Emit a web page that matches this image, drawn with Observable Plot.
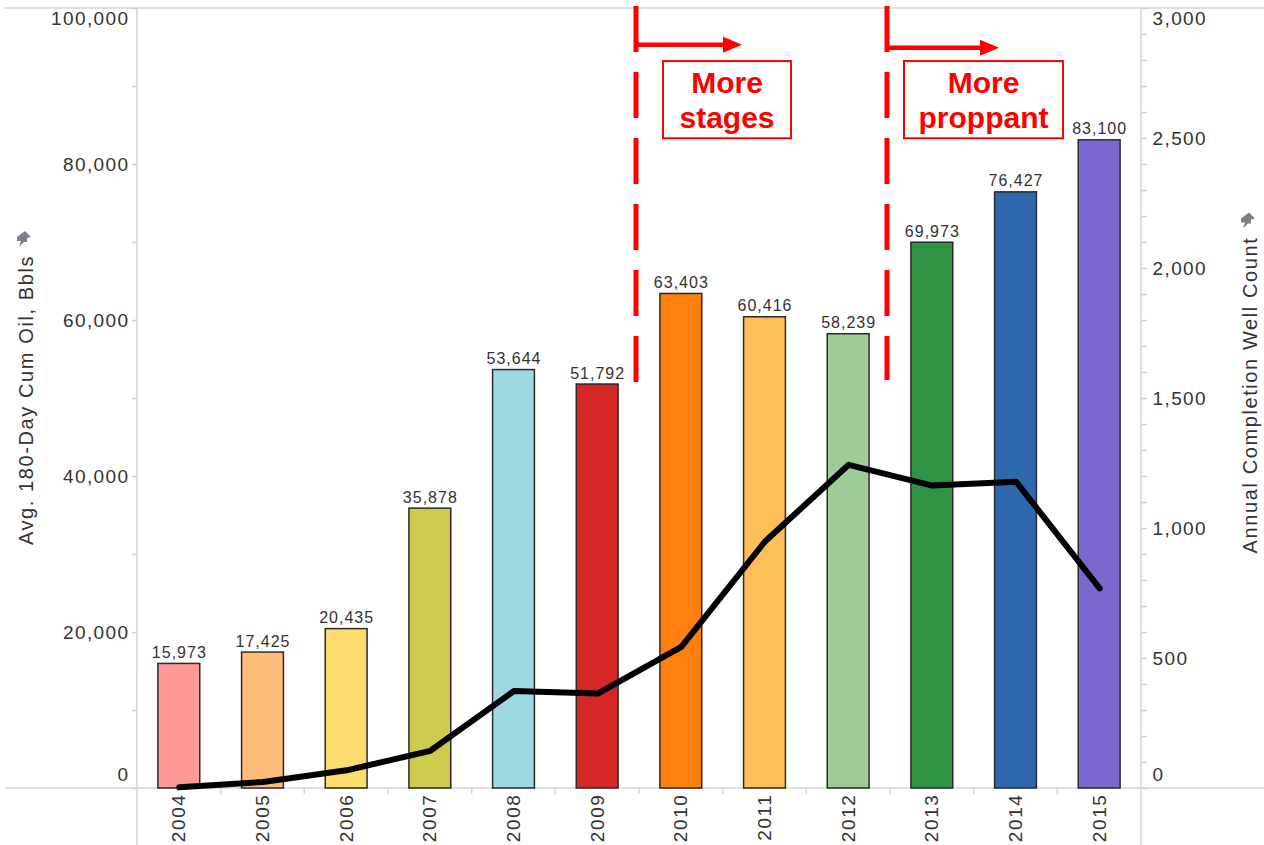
<!DOCTYPE html>
<html>
<head>
<meta charset="utf-8">
<script src="https://cdn.jsdelivr.net/npm/d3@7"></script>
<script src="https://cdn.jsdelivr.net/npm/@observablehq/plot@0.6"></script>
<style>
  html, body { margin: 0; padding: 0; background: #fff; }
  #chart svg { display: block; font-family: "Liberation Sans", Arial, sans-serif; }
  .ticklbl text { letter-spacing: 1.4px; }
  .barlbl text { letter-spacing: 1px; }
  .yearlbl text { letter-spacing: 1.6px; }
</style>
</head>
<body>
<div id="chart"></div>
<script>
// ---- data ----
const years = ["2004","2005","2006","2007","2008","2009","2010","2011","2012","2013","2014","2015"];
const oil = [15973, 17425, 20435, 35878, 53644, 51792, 63403, 60416, 58239, 69973, 76427, 83100];
const wells = [5, 25, 70, 145, 375, 365, 545, 950, 1245, 1165, 1180, 770];
const barColors = ["#FF9896","#FFBB78","#FEDB6E","#CDCA50","#9ED9E3","#D62728","#FF7F0E","#FDBE58","#A0CB96","#309343","#2E69AF","#7B67CE"];
const leftTicks = [0, 20000, 40000, 60000, 80000, 100000];
const rightTicks = [0, 500, 1000, 1500, 2000, 2500, 3000];
const leftTitle = "Avg. 180-Day Cum Oil, Bbls";
const rightTitle = "Annual Completion Well Count";
const notes = [
  {after: "2009", lines: ["More", "stages"], endValue: 51500},
  {after: "2012", lines: ["More", "proppant"], endValue: 52300}
];

const LEFT_MAX = 100000, RIGHT_MAX = 3000;
const k = LEFT_MAX / RIGHT_MAX;
const table = years.map((y, i) => ({year: y, oil: oil[i], wells: wells[i], color: barColors[i]}));

const fmt = d3.format(",");
const W = 1264, H = 845;
const grey = "#333";

const chart = Plot.plot({
  width: W, height: H,
  marginLeft: 137, marginRight: 123, marginTop: 8, marginBottom: 57,
  x: {type: "band", domain: years, paddingInner: 0.5, paddingOuter: 0.25, round: false},
  y: {domain: [0, LEFT_MAX]},
  marks: [
    // minor ticks left
    Plot.axisY({ticks: d3.range(0, LEFT_MAX + 1, 10000), anchor: "left", tickSize: 5, tickFormat: () => "", stroke: "#d0d0d0", strokeWidth: 1.5, label: null}),
    // left tick labels
    Plot.axisY({ticks: leftTicks.slice(1, -1), anchor: "left", tickSize: 0, tickPadding: 8, fontSize: 19, fill: grey, className: "ticklbl", tickFormat: fmt, label: null}),
    Plot.axisY({ticks: [leftTicks[0]], anchor: "left", tickSize: 0, tickPadding: 8, fontSize: 19, fill: grey, dy: -14, className: "ticklbl", tickFormat: fmt, label: null}),
    Plot.axisY({ticks: [leftTicks[leftTicks.length - 1]], anchor: "left", tickSize: 0, tickPadding: 8, fontSize: 19, fill: grey, dy: 10, className: "ticklbl", tickFormat: fmt, label: null}),
    // right axis (well count mapped onto the shared scale)
    Plot.axisY({ticks: d3.range(0, RIGHT_MAX + 1, 100).map(v => v * k), anchor: "right", tickSize: 5, tickFormat: () => "", stroke: "#d0d0d0", strokeWidth: 1.5, label: null}),
    Plot.axisY({ticks: rightTicks.slice(1, -1).map(v => v * k), anchor: "right", tickSize: 0, tickPadding: 11, fontSize: 19, fill: grey, className: "ticklbl", tickFormat: v => fmt(Math.round(v / k)), label: null}),
    Plot.axisY({ticks: [rightTicks[0] * k], anchor: "right", tickSize: 0, tickPadding: 11, fontSize: 19, fill: grey, dy: -14, className: "ticklbl", tickFormat: v => fmt(Math.round(v / k)), label: null}),
    Plot.axisY({ticks: [rightTicks[rightTicks.length - 1] * k], anchor: "right", tickSize: 0, tickPadding: 11, fontSize: 19, fill: grey, dy: 10, className: "ticklbl", tickFormat: v => fmt(Math.round(v / k)), label: null}),
    // x axis
    Plot.axisX({tickRotate: -90, tickSize: 0, tickPadding: 5, fontSize: 19, fill: grey, className: "yearlbl", label: null}),
    // bars
    Plot.barY(table, {x: "year", y: "oil", fill: "color", stroke: "#2a2a2a", strokeWidth: 1.5}),
    Plot.text(table, {x: "year", y: "oil", text: d => fmt(d.oil), dy: -11, fontSize: 16, fill: grey, className: "barlbl"}),
    // well count line
    Plot.line(table, {x: "year", y: d => d.wells * k, stroke: "#000", strokeWidth: 6, strokeLinejoin: "round", strokeLinecap: "round"})
  ]
});

document.getElementById("chart").appendChild(chart);

// ---- frame, separators and annotations placed through the chart's own scales ----
const svg = d3.select(chart);
const sx = chart.scale("x"), sy = chart.scale("y");
const step = sx.step, bw = sx.bandwidth;
const bandStart = y => sx.apply(y) - (step - bw) / 2;
const x0 = bandStart(years[0]);
const x1 = bandStart(years[years.length - 1]) + step;
const yBase = sy.apply(0), yTop = sy.apply(LEFT_MAX);

const frame = svg.insert("g", ":first-child").attr("stroke", "#d6d6d6").attr("stroke-width", 1.6);
frame.append("line").attr("x1", 5).attr("x2", W).attr("y1", yTop).attr("y2", yTop);
frame.append("line").attr("x1", 5).attr("x2", W).attr("y1", yBase).attr("y2", yBase);
frame.append("line").attr("x1", x0).attr("x2", x0).attr("y1", yTop).attr("y2", H);
frame.append("line").attr("x1", x1).attr("x2", x1).attr("y1", yTop).attr("y2", H);
years.slice(1).forEach(y => {
  const bx = bandStart(y);
  frame.append("line").attr("x1", bx).attr("x2", bx).attr("y1", yBase).attr("y2", yBase + 6);
});

// axis titles with pin glyphs
function pin(g) {
  g.append("path").attr("d", "M-7,-1 L1,-7 L7,-1 L3,0 L3,4 L0,4 L-5,9 L-3,3 L-7,3 Z").attr("fill", "#7a8088");
}
const midY = (yBase + yTop) / 2;
const lt = svg.append("g").attr("transform", `translate(26,${midY + 2}) rotate(-90)`);
lt.append("text").attr("text-anchor", "middle").attr("dy", "0.35em").attr("font-size", 20).attr("fill", grey)
  .style("letter-spacing", "1.6px").text(leftTitle);
const ltw = lt.select("text").node().getComputedTextLength();
pin(lt.append("g").attr("transform", `translate(${ltw / 2 + 17},-2) rotate(90)`));
const rt = svg.append("g").attr("transform", `translate(1250,${midY - 3}) rotate(-90)`);
rt.append("text").attr("text-anchor", "middle").attr("dy", "0.35em").attr("font-size", 20).attr("fill", grey)
  .style("letter-spacing", "1.6px").text(rightTitle);
const rtw = rt.select("text").node().getComputedTextLength();
pin(rt.append("g").attr("transform", `translate(${rtw / 2 + 17},-2) rotate(90)`));

// annotations
const red = "#FF0000";
const ann = svg.append("g");
notes.forEach((n, i) => {
  const idx = years.indexOf(n.after);
  const bx = bandStart(years[idx + 1]) - 3;
  const yEnd = sy.apply(n.endValue);
  ann.append("line").attr("x1", bx).attr("x2", bx).attr("y1", yTop - 2).attr("y2", yEnd)
    .attr("stroke", red).attr("stroke-width", 5).attr("stroke-dasharray", "46,20");
  const ay = sy.apply(i === 0 ? 95300 : 94900);
  const tip = bx + (i === 0 ? 106 : 112);
  ann.append("line").attr("x1", bx).attr("x2", tip - 16).attr("y1", ay).attr("y2", ay)
    .attr("stroke", red).attr("stroke-width", 4.5);
  ann.append("path").attr("d", `M${tip - 19},${ay - 8} L${tip},${ay} L${tip - 19},${ay + 8} Z`).attr("fill", red);
  const bxL = bx + (i === 0 ? 27 : 17);
  const bxR = bx + (i === 0 ? 155 : 176);
  const byT = sy.apply(93200), byB = sy.apply(83300);
  ann.append("rect").attr("x", bxL).attr("y", byT).attr("width", bxR - bxL).attr("height", byB - byT)
    .attr("fill", "#fff").attr("stroke", red).attr("stroke-width", 2);
  const cx = (bxL + bxR) / 2;
  n.lines.forEach((t, j) => {
    ann.append("text").attr("x", cx).attr("y", byT + 32 + j * 35).attr("text-anchor", "middle")
      .attr("font-size", 30).attr("font-weight", "bold").attr("fill", red).text(t);
  });
});
</script>
</body>
</html>
